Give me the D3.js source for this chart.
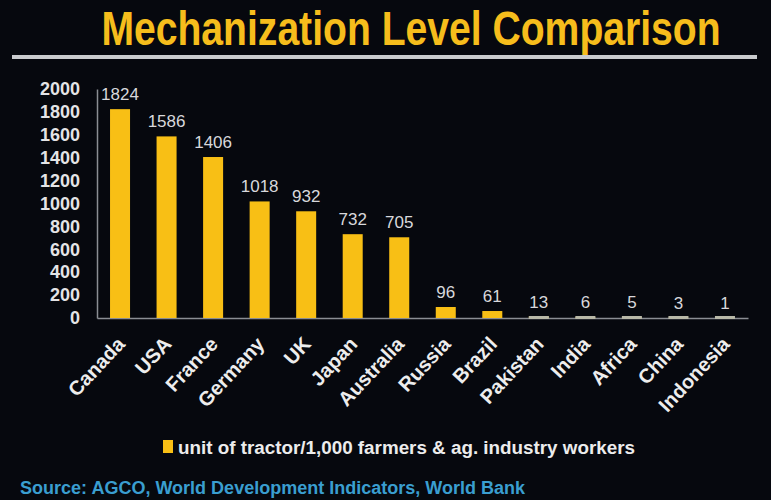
<!DOCTYPE html>
<html>
<head>
<meta charset="utf-8">
<script src="https://cdn.jsdelivr.net/npm/d3@7"></script>
<style>
  body { margin: 0; background: #06080e; }
  svg { display: block; }
</style>
</head>
<body>
<div id="wrapper"></div>
<script>
// data
const countries = ["Canada", "USA", "France", "Germany", "UK", "Japan", "Australia",
  "Russia", "Brazil", "Pakistan", "India", "Africa", "China", "Indonesia"]
const tractors = [1824, 1586, 1406, 1018, 932, 732, 705, 96, 61, 13, 6, 5, 3, 1]
const yTicks = [0, 200, 400, 600, 800, 1000, 1200, 1400, 1600, 1800, 2000]
const titleText = "Mechanization Level Comparison"
const legendText = "unit of tractor/1,000 farmers & ag. industry workers"
const sourceText = "Source: AGCO, World Development Indicators, World Bank"

function drawChart() {
  const dimensions = {
    width: 771,
    height: 500,
    margin: { top: 89, right: 23, bottom: 182, left: 97 },
  }
  dimensions.boundedWidth = dimensions.width - dimensions.margin.left - dimensions.margin.right
  dimensions.boundedHeight = dimensions.height - dimensions.margin.top - dimensions.margin.bottom

  const yellow = "#f8bf15"
  const font = "'Liberation Sans', Arial, sans-serif"

  const wrapper = d3.select("#wrapper")
    .append("svg")
    .attr("width", dimensions.width)
    .attr("height", dimensions.height)

  wrapper.append("rect")
    .attr("width", dimensions.width)
    .attr("height", dimensions.height)
    .attr("fill", "#06080e")

  // title + rule (squeezed to the narrow look of the original)
  wrapper.append("text")
    .attr("transform", "translate(411, 45) scale(0.815, 1)")
    .attr("text-anchor", "middle")
    .attr("fill", "#f6bd1c")
    .style("font-family", font)
    .style("font-weight", "bold")
    .style("font-size", "48px")
    .text(titleText)

  wrapper.append("rect")
    .attr("x", 12)
    .attr("y", 55)
    .attr("width", 745)
    .attr("height", 4)
    .attr("fill", "#c9cbce")

  const bounds = wrapper.append("g")
    .attr("transform", `translate(${dimensions.margin.left}, ${dimensions.margin.top})`)

  // scales
  const xScale = d3.scaleBand()
    .domain(countries)
    .range([0, dimensions.boundedWidth])
    .paddingInner(0.57)
    .paddingOuter(0.28)

  const yScale = d3.scaleLinear()
    .domain([0, 2000])
    .range([dimensions.boundedHeight, 0])

  // axes
  const yAxis = bounds.append("g")
    .call(d3.axisLeft(yScale).tickValues(yTicks).tickFormat(d3.format("d"))
      .tickSize(0).tickPadding(17))
  yAxis.select(".domain")
    .attr("stroke", "#8a8d93")
    .attr("stroke-width", 1.5)
  yAxis.selectAll("text")
    .attr("fill", "#e4e4e6")
    .style("font-family", font)
    .style("font-weight", "bold")
    .style("font-size", "18px")

  const xAxis = bounds.append("g")
    .attr("transform", `translate(0, ${dimensions.boundedHeight})`)
    .call(d3.axisBottom(xScale).tickSize(0).tickSizeOuter(0))
  xAxis.select(".domain")
    .attr("stroke", "#8a8d93")
    .attr("stroke-width", 1.5)
  xAxis.selectAll("text")
    .attr("fill", "#ededed")
    .attr("text-anchor", "end")
    .attr("y", 0)
    .attr("dy", 0)
    .attr("transform", "translate(6, 27) rotate(-47)")
    .style("font-family", font)
    .style("font-weight", "bold")
    .style("font-size", "20px")

  // bars
  const data = countries.map((c, i) => ({ country: c, value: tractors[i] }))

  bounds.selectAll(".bar")
    .data(data)
    .enter().append("rect")
      .attr("class", "bar")
      .attr("x", d => xScale(d.country))
      .attr("y", d => yScale(d.value))
      .attr("width", xScale.bandwidth())
      .attr("height", d => dimensions.boundedHeight - yScale(d.value))
      .attr("fill", yellow)

  // small values show as light dashes on the baseline
  bounds.selectAll(".stub")
    .data(data.filter(d => d.value < 20))
    .enter().append("rect")
      .attr("class", "stub")
      .attr("x", d => xScale(d.country))
      .attr("y", dimensions.boundedHeight - 2)
      .attr("width", xScale.bandwidth())
      .attr("height", 3)
      .attr("fill", "#b8b8a8")

  bounds.selectAll(".value")
    .data(data)
    .enter().append("text")
      .attr("class", "value")
      .attr("x", d => xScale(d.country) + xScale.bandwidth() / 2)
      .attr("y", d => yScale(d.value) - 9)
      .attr("text-anchor", "middle")
      .attr("fill", "#d8d8dc")
      .style("font-family", font)
      .style("font-size", "17px")
      .text(d => d.value)

  // legend
  wrapper.append("rect")
    .attr("x", 163)
    .attr("y", 440)
    .attr("width", 10)
    .attr("height", 13)
    .attr("fill", yellow)

  wrapper.append("text")
    .attr("x", 178)
    .attr("y", 454)
    .attr("fill", "#ececec")
    .style("font-family", font)
    .style("font-weight", "bold")
    .style("font-size", "18px")
    .attr("textLength", 457)
    .attr("lengthAdjust", "spacingAndGlyphs")
    .text(legendText)

  // source
  wrapper.append("text")
    .attr("x", 20)
    .attr("y", 494)
    .attr("fill", "#3a9ed0")
    .style("font-family", font)
    .style("font-weight", "bold")
    .style("font-size", "18px")
    .attr("textLength", 505)
    .attr("lengthAdjust", "spacingAndGlyphs")
    .text(sourceText)
}

drawChart()
</script>
</body>
</html>
